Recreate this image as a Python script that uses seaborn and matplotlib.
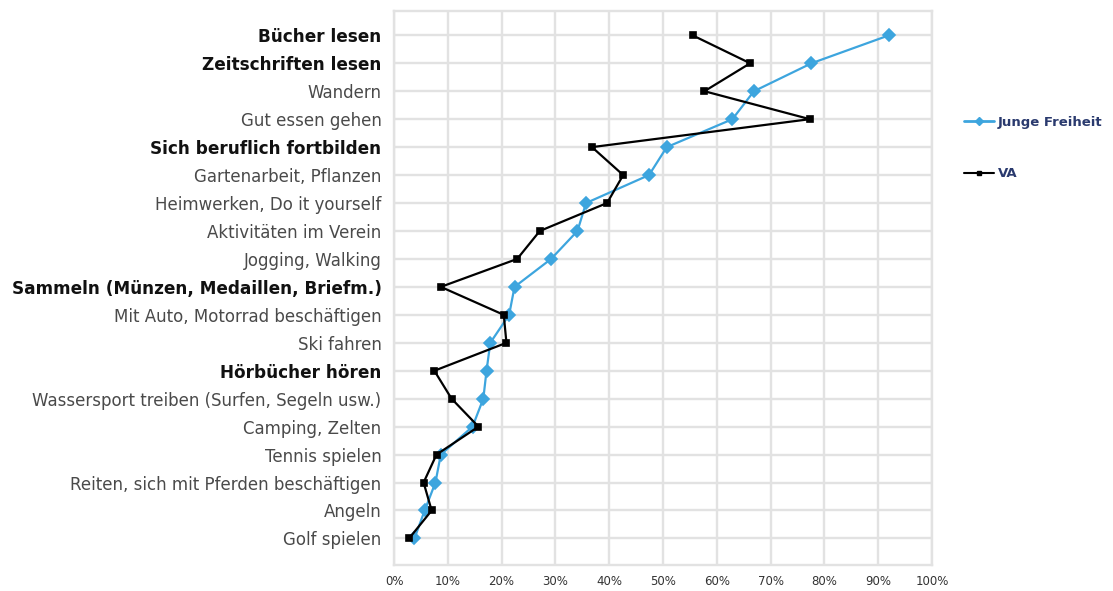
import matplotlib
matplotlib.use("Agg")
import matplotlib.pyplot as plt
import seaborn as sns
import pandas as pd
from matplotlib.lines import Line2D
from matplotlib.ticker import FuncFormatter

# Freizeitaktivitäten (von oben nach unten)
aktivitaeten = [
    "Bücher lesen",
    "Zeitschriften lesen",
    "Wandern",
    "Gut essen gehen",
    "Sich beruflich fortbilden",
    "Gartenarbeit, Pflanzen",
    "Heimwerken, Do it yourself",
    "Aktivitäten im Verein",
    "Jogging, Walking",
    "Sammeln (Münzen, Medaillen, Briefm.)",
    "Mit Auto, Motorrad beschäftigen",
    "Ski fahren",
    "Hörbücher hören",
    "Wassersport treiben (Surfen, Segeln usw.)",
    "Camping, Zelten",
    "Tennis spielen",
    "Reiten, sich mit Pferden beschäftigen",
    "Angeln",
    "Golf spielen",
]

# hervorgehobene Aktivitäten
hervorgehoben = [
    "Bücher lesen",
    "Zeitschriften lesen",
    "Sich beruflich fortbilden",
    "Sammeln (Münzen, Medaillen, Briefm.)",
    "Hörbücher hören",
]

# Anteile in Prozent
junge_freiheit = [92.0, 77.6, 66.9, 62.9, 50.7, 47.4, 35.7, 34.1, 29.2, 22.4,
                  21.4, 17.9, 17.2, 16.6, 14.6, 8.7, 7.7, 5.7, 3.8]
va = [55.5, 66.2, 57.7, 77.3, 36.8, 42.6, 39.6, 27.1, 22.9, 8.7,
      20.4, 20.9, 7.5, 10.7, 15.7, 7.9, 5.5, 7.0, 2.8]

serien = ["Junge Freiheit", "VA"]
farben = {"Junge Freiheit": "#3DA5DE", "VA": "#000000"}

df = pd.concat([
    pd.DataFrame({"Aktivität": aktivitaeten, "Anteil": junge_freiheit, "Serie": "Junge Freiheit"}),
    pd.DataFrame({"Aktivität": aktivitaeten, "Anteil": va, "Serie": "VA"}),
])

sns.set_theme(style="white")
plt.rcParams["font.family"] = ["DejaVu Sans"]

fig = plt.figure(figsize=(11.13, 5.91), dpi=100)
ax = fig.add_axes([394 / 1113, 1 - 565 / 591, (932 - 394) / 1113, (565 - 11) / 591])

# Gitter unter den Linien
grid_col = "#e2e2e2"
for xv in range(0, 101, 10):
    ax.axvline(xv, color=grid_col, lw=1.7, zorder=0)
for yv in range(-1, len(aktivitaeten)):
    ax.axhline(yv, color=grid_col, lw=1.7, zorder=0)

sns.pointplot(
    data=df, x="Anteil", y="Aktivität", hue="Serie", order=aktivitaeten,
    hue_order=serien, palette=farben, orient="h", markers=["D", "s"],
    linestyles=["-", "-"], markersize=5, linewidth=1.6, errorbar=None,
    dodge=False, legend=False, ax=ax,
)

# Markergrößen je Serie anpassen
for line in ax.lines:
    if line.get_marker() == "D":
        line.set_markersize(6.5)
    elif line.get_marker() == "s":
        line.set_markersize(4.5)

ax.set_xlim(0, 100)
ax.set_ylim(len(aktivitaeten) - 0.05, -0.87)
ax.set_xticks(range(0, 101, 10))
ax.xaxis.set_major_formatter(FuncFormatter(lambda v, p: f"{int(v)}%"))
ax.set_xlabel("")
ax.set_ylabel("")
ax.tick_params(axis="x", length=0, pad=7, labelsize=8.5, colors="#333333")
ax.tick_params(axis="y", length=0, pad=9)

for lbl in ax.get_yticklabels():
    if lbl.get_text() in hervorgehoben:
        lbl.set_fontweight("bold")
        lbl.set_fontsize(12.2)
        lbl.set_color("#111111")
    else:
        lbl.set_fontsize(12)
        lbl.set_color("#4a4a4a")

for s in ax.spines.values():
    s.set_color(grid_col)
    s.set_linewidth(1.7)

handles = [
    Line2D([], [], color=farben["Junge Freiheit"], marker="D", markersize=4, lw=2),
    Line2D([], [], color=farben["VA"], marker="s", markersize=3.5, lw=1.5),
]
leg = fig.legend(handles, serien, loc="upper left", bbox_to_anchor=(952 / 1113, 1 - 104 / 591),
                 frameon=False, handlelength=2.3, handletextpad=0.3, labelspacing=2.9,
                 prop={"weight": "bold", "size": 9.5})
for t in leg.get_texts():
    t.set_color("#2a3a6e")

fig.savefig("out.png", dpi=100)
